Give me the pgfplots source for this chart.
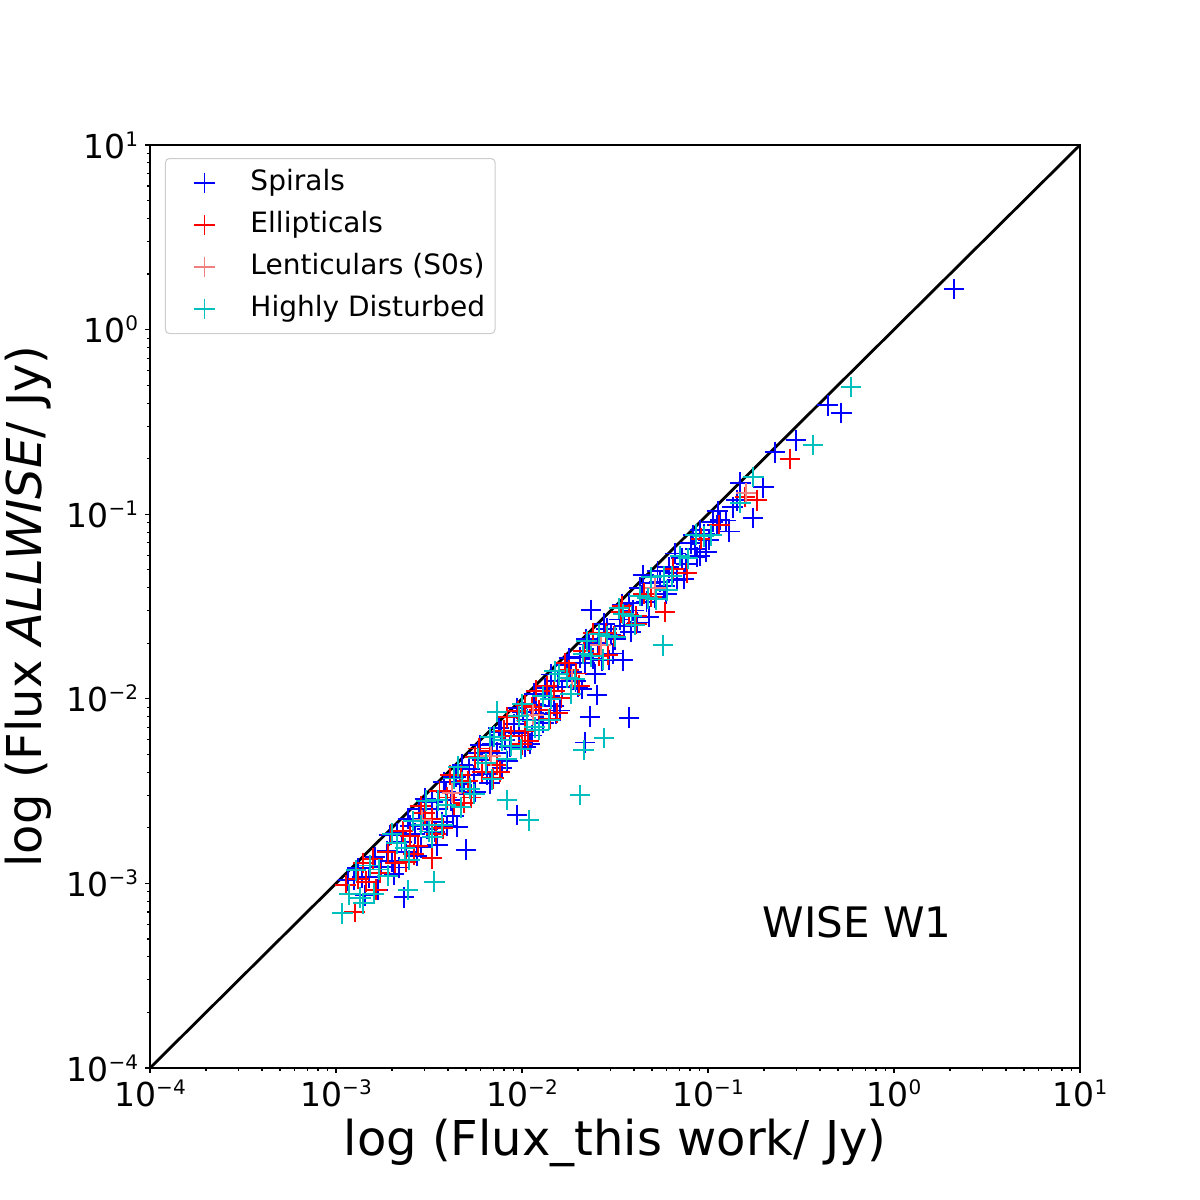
\documentclass[border=0pt]{standalone}
\usepackage{fontspec}
\setmainfont{DejaVu Sans}[ItalicFont={DejaVu Sans Oblique},BoldFont={DejaVu Sans Bold}]
\usepackage{pgfplots}
\pgfplotsset{compat=1.18}
\definecolor{mplcyan}{HTML}{00BFBF}
\definecolor{lcoral}{HTML}{F08080}
\definecolor{legframe}{HTML}{CCCCCC}
\newcommand{\pw}[1]{10\raisebox{6pt}{\fontsize{10}{10}\selectfont #1}}

\begin{document}
\begin{tikzpicture}
\useasboundingbox (-75pt,-66pt) rectangle (525pt,534pt);
\begin{axis}[
    xmode=log, ymode=log,
    xmin=1e-4, xmax=10, ymin=1e-4, ymax=10,
    scale only axis, width=465pt, height=461.5pt,
    xtick={1e-4,1e-3,1e-2,1e-1,1,10},
    ytick={1e-4,1e-3,1e-2,1e-1,1,10},
    xticklabels={\pw{−4},\pw{−3},\pw{−2},\pw{−1},\pw{0},\pw{1}},
    yticklabels={\pw{−4},\pw{−3},\pw{−2},\pw{−1},\pw{0},\pw{1}},
    minor xtick={2e-4,3e-4,4e-4,5e-4,6e-4,7e-4,8e-4,9e-4,
                 2e-3,3e-3,4e-3,5e-3,6e-3,7e-3,8e-3,9e-3,
                 2e-2,3e-2,4e-2,5e-2,6e-2,7e-2,8e-2,9e-2,
                 0.2,0.3,0.4,0.5,0.6,0.7,0.8,0.9,2,3,4,5,6,7,8,9},
    minor ytick={2e-4,3e-4,4e-4,5e-4,6e-4,7e-4,8e-4,9e-4,
                 2e-3,3e-3,4e-3,5e-3,6e-3,7e-3,8e-3,9e-3,
                 2e-2,3e-2,4e-2,5e-2,6e-2,7e-2,8e-2,9e-2,
                 0.2,0.3,0.4,0.5,0.6,0.7,0.8,0.9,2,3,4,5,6,7,8,9},
    tick pos=left, tick align=outside,
    major tick length=2.4pt, minor tick length=1.4pt,
    tick style={black, line width=0.55pt},
    axis line style={line width=0.55pt},
    ticklabel style={font=\fontsize{16.5}{18}\selectfont},
    xlabel={log (Flux\_this work/ Jy)},
    ylabel={log (Flux \textit{ALLWISE}/ Jy)},
    label style={font=\fontsize{24}{26}\selectfont},
    xlabel style={at={([yshift=-43.5pt]axis description cs:0.5,0)}, anchor=base},
    ylabel style={at={([xshift=-54pt]axis description cs:0,0.5)}, anchor=base, rotate=0},
    legend cell align=left,
    legend style={at={(0,1)}, anchor=north west, xshift=7.5pt, yshift=-6.5pt,
        draw=legframe, fill=white, rounded corners=2pt, line width=0.5pt,
        font=\fontsize{14}{16}\selectfont,
        inner xsep=4pt, inner ysep=4pt,
        nodes={inner sep=1pt, text height=11pt, text depth=3.5pt},
        row sep=4.5pt, column sep=11.5pt},
    legend image code/.code={%
        \path[draw=none,fill=none] (0pt,-1pt) rectangle (26pt,1pt);
        \draw[mark repeat=2,mark phase=2,#1] plot coordinates {(0pt,0pt) (15.5pt,0pt) (26pt,0pt)};},
]
% one-to-one line
\addplot[black, line width=1.4pt, forget plot] coordinates {(1e-4,1e-4) (10,10)};

% Spirals
\addplot[only marks, mark=+, mark size=5.2pt, line width=0.95pt, color=blue] coordinates {
(0.00116,0.00104) (0.00125,0.00105) (0.00138,0.00108) (0.00150,0.00108) (0.00162,0.00139)
(0.00175,0.00123) (0.00188,0.00150) (0.00200,0.00132) (0.00212,0.00187) (0.00225,0.00167)
(0.00238,0.00148) (0.00250,0.00205) (0.00265,0.00186) (0.00280,0.00252) (0.00295,0.00224)
(0.00310,0.00198) (0.00330,0.00277) (0.00350,0.00252) (0.00370,0.00215) (0.00390,0.00312)
(0.00415,0.00282) (0.00440,0.00378) (0.00465,0.00344) (0.00490,0.00309) (0.00520,0.00416)
(0.00550,0.00385) (0.00580,0.00510) (0.00610,0.00464) (0.00650,0.00390) (0.00690,0.00566)
(0.00730,0.00511) (0.00770,0.00662) (0.00810,0.00599) (0.00860,0.00550) (0.00910,0.00728)
(0.00960,0.00653) (0.01010,0.00848) (0.01070,0.00770) (0.01130,0.00633) (0.01190,0.00928)
(0.01260,0.00832) (0.01330,0.01144) (0.01400,0.01036) (0.01480,0.00918) (0.01560,0.01248)
(0.01650,0.01155) (0.01740,0.01531) (0.01840,0.01398) (0.01940,0.01242) (0.02050,0.01681)
(0.02170,0.01562) (0.02290,0.01969) (0.02420,0.01646) (0.02560,0.01997) (0.02700,0.01620)
(0.02850,0.02394) (0.03010,0.02227) (0.03180,0.02099) (0.03360,0.02688) (0.03550,0.02485)
(0.03750,0.03300) (0.03960,0.03010) (0.04180,0.02592) (0.04420,0.03624) (0.04670,0.03362)
(0.04930,0.04240) (0.05210,0.03543) (0.05500,0.04290) (0.05810,0.04067) (0.06140,0.05158)
(0.06490,0.04803) (0.06850,0.04384) (0.07240,0.05792) (0.07650,0.05355) (0.08080,0.06949)
(0.08540,0.06490) (0.09020,0.05953) (0.09530,0.07815) (0.10100,0.07272) (0.10600,0.09116)
(0.11200,0.08736) (0.12500,0.09250) (0.13600,0.10880)
(0.00131,0.00121) (0.00144,0.000864) (0.00168,0.000924) (0.00194,0.00182) (0.00218,0.00122)
(0.00244,0.00224) (0.00272,0.00141) (0.00302,0.00287) (0.00340,0.00190) (0.00380,0.00353)
(0.00428,0.00231) (0.00478,0.00440) (0.00535,0.00305) (0.00595,0.00559) (0.00670,0.00348)
(0.00750,0.00698) (0.00835,0.00459) (0.00935,0.00888) (0.01040,0.00551) (0.01160,0.01067)
(0.01300,0.00741) (0.01440,0.01354) (0.01600,0.00864) (0.01790,0.01665) (0.02000,0.01160)
(0.02220,0.02109) (0.02480,0.01364) (0.02770,0.02548) (0.03090,0.01761) (0.03450,0.03243)
(0.03850,0.02310) (0.04300,0.03999) (0.04800,0.02784) (0.05350,0.04922) (0.05970,0.03701)
(0.06660,0.06127) (0.07440,0.04464) (0.08300,0.07719) (0.09800,0.06272) (0.1130,0.1040)
(0.1300,0.0806)
(0.00205,0.00112) (0.00285,0.00157) (0.00395,0.00205) (0.00560,0.00314) (0.00780,0.00421)
(0.01100,0.00572) (0.01520,0.00836) (0.02100,0.01134) (0.02950,0.01623)
(0.0906,0.0820) (0.116,0.093) (0.143,0.119) (0.149,0.148) (0.198,0.140) (0.1746,0.0953)
(0.0873,0.0586) (0.0448,0.0469) (0.0349,0.0162) (0.00448,0.00202) (0.00350,0.00161)
(0.00232,0.00084) (0.00500,0.00152) (0.00940,0.00235) (0.0218,0.0058) (0.0232,0.0080)
(0.0253,0.0105) (0.0376,0.0079) (0.0235,0.0303) (0.229,0.217) (0.297,0.252)
(0.44,0.39) (0.52,0.353) (2.1,1.66)
};
\addlegendentry{Spirals}

% Ellipticals
\addplot[only marks, mark=+, mark size=5.2pt, line width=0.95pt, color=red] coordinates {
(0.00113,0.00098) (0.00126,0.00070) (0.00132,0.00106) (0.00145,0.00102) (0.00158,0.00136)
(0.00172,0.00114) (0.00190,0.00148) (0.00208,0.00129) (0.00228,0.00192) (0.00250,0.00180)
(0.00275,0.00160) (0.00300,0.00240) (0.00330,0.00224) (0.00328,0.00137) (0.00360,0.00317)
(0.00395,0.00292) (0.00430,0.00267) (0.00470,0.00385) (0.00510,0.00357) (0.00560,0.00482)
(0.00610,0.00403) (0.00670,0.00523) (0.00730,0.00438) (0.00800,0.00672) (0.00870,0.00626)
(0.00950,0.00855) (0.01040,0.00925) (0.01040,0.00666) (0.01130,0.00904) (0.01240,0.00868)
(0.01360,0.01170) (0.01490,0.01103) (0.01630,0.01011) (0.01790,0.01432) (0.01960,0.01372)
(0.02150,0.01806) (0.02360,0.01746) (0.02590,0.01709) (0.02840,0.02272) (0.03120,0.02184)
(0.03420,0.02941) (0.03750,0.02850) (0.04120,0.02802) (0.04520,0.03706) (0.04960,0.03571)
(0.0588,0.0295) (0.06500,0.05070) (0.0771,0.0480) (0.09200,0.07360) (0.11500,0.08740)
(0.158,0.124) (0.183,0.119) (0.276,0.199)
(0.00140,0.00129) (0.00165,0.000924) (0.00198,0.00184) (0.00238,0.00131) (0.00285,0.00262)
(0.00345,0.00186) (0.00412,0.00387) (0.00490,0.00274) (0.00585,0.00538) (0.00700,0.00371)
(0.00835,0.00793) (0.00995,0.00567) (0.01190,0.01107) (0.01420,0.00781) (0.01700,0.01564)
(0.02030,0.01177) (0.02420,0.02275) (0.02890,0.01734) (0.03450,0.03174) (0.04120,0.02554)
(0.00262,0.00144) (0.00375,0.00199) (0.00530,0.00292) (0.00760,0.00403) (0.01080,0.00594)
(0.01550,0.00837)
};
\addlegendentry{Ellipticals}

% Lenticulars
\addplot[only marks, mark=+, mark size=5.2pt, line width=0.95pt, color=lcoral] coordinates {
(0.0029,0.0022) (0.0042,0.0031) (0.0068,0.0049) (0.0115,0.0082) (0.0185,0.0128)
(0.0265,0.0195) (0.052,0.040) (0.16,0.13)
};
\addlegendentry{Lenticulars (S0s)}

% Highly disturbed
\addplot[only marks, mark=+, mark size=5.2pt, line width=0.95pt, color=mplcyan] coordinates {
(0.00108,0.00069) (0.00118,0.000873) (0.00135,0.000837) (0.00140,0.00078) (0.00152,0.00125)
(0.00170,0.00119) (0.00190,0.00110) (0.00212,0.00165) (0.00235,0.00155) (0.00244,0.00092)
(0.00260,0.00218) (0.00288,0.00207) (0.00318,0.00191) (0.00337,0.00102) (0.00352,0.00282)
(0.00390,0.00265) (0.00430,0.00370) (0.00475,0.00352) (0.00525,0.00326) (0.00580,0.00476)
(0.00640,0.00448) (0.00710,0.00625) (0.00734,0.00850) (0.00785,0.00597) (0.00830,0.00283)
(0.00870,0.00557) (0.00960,0.00806) (0.01060,0.00763) (0.01090,0.00220) (0.01170,0.00702)
(0.01290,0.01032) (0.01430,0.01001) (0.01580,0.01359) (0.01750,0.01295) (0.01930,0.01274)
(0.02050,0.00301) (0.02130,0.01747) (0.02150,0.00528) (0.02360,0.01699) (0.02600,0.02236)
(0.02760,0.00614) (0.02880,0.02189) (0.03180,0.02162) (0.03510,0.02878) (0.03880,0.02794)
(0.04290,0.03604) (0.04740,0.03508) (0.05240,0.03458) (0.0573,0.0195) (0.05790,0.04632)
(0.06400,0.04608) (0.07070,0.05939) (0.07800,0.05772) (0.09500,0.07600) (0.10400,0.07700)
(0.149,0.115) (0.175,0.159) (0.367,0.237) (0.587,0.489)
(0.00128,0.00118) (0.00160,0.00088) (0.00200,0.00186) (0.00248,0.00134) (0.00305,0.00281)
(0.00372,0.00208) (0.00455,0.00428) (0.00555,0.00305) (0.00675,0.00621) (0.00825,0.00470)
(0.01005,0.00935) (0.01230,0.00677) (0.01500,0.01410) (0.01830,0.01061) (0.02230,0.02052)
(0.02720,0.01632) (0.03320,0.03088) (0.04050,0.02511) (0.04950,0.04554) (0.06050,0.03872)
(0.08600,0.07740)
(0.00330,0.00178) (0.00470,0.00259) (0.00690,0.00366) (0.00990,0.00535) (0.01400,0.00770)
};
\addlegendentry{Highly Disturbed}

\node[font=\fontsize{21}{24}\selectfont] at (axis cs:0.632,6.2e-4) {WISE W1};
\end{axis}
\end{tikzpicture}
\end{document}
